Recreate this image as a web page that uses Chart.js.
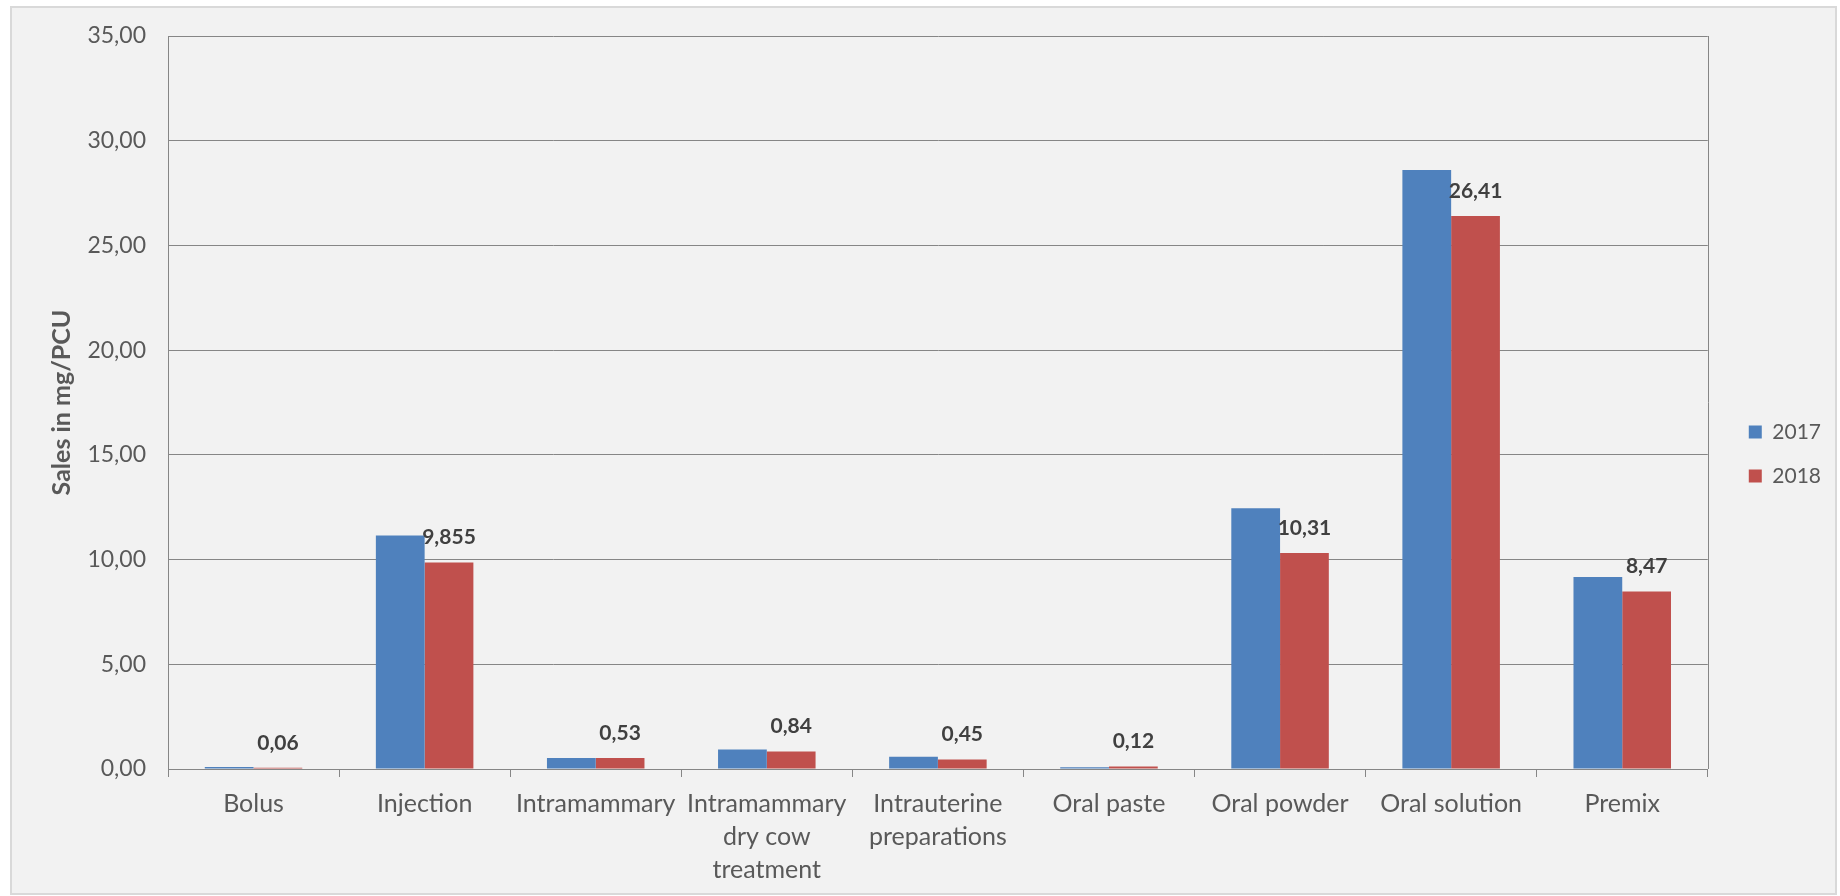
<!DOCTYPE html>
<html>
<head>
<meta charset="utf-8">
<script src="https://cdn.jsdelivr.net/npm/chart.js@4"></script>
<style>
  html, body { margin: 0; padding: 0; background: #ffffff; }
  canvas { display: block; }
</style>
</head>
<body>
<canvas id="chartSales" width="1840" height="896"></canvas>
<script>
// Sales per pharmaceutical form, mg/PCU
const categories = [
    'Bolus', 'Injection', 'Intramammary', ['Intramammary', 'dry cow', 'treatment'],
    ['Intrauterine', 'preparations'], 'Oral paste', 'Oral powder', 'Oral solution', 'Premix'
];
const seriesNames = ['2017', '2018'];
const values2017 = [0.09, 11.15, 0.53, 0.93, 0.58, 0.08, 12.45, 28.6, 9.17];
const values2018 = [0.06, 9.855, 0.53, 0.84, 0.45, 0.12, 10.31, 26.41, 8.47];
const yMin = 0;
const yMax = 35;
const yStep = 5;
const yTitle = 'Sales in mg/PCU';

const FONT = 'Lato, "Open Sans", sans-serif';
const axisGray = '#868686';
const textGray = '#595959';

const toComma = v => String(v).replace('.', ',');

// frame + grey chart background like the Excel export
const frameBg = {
    id: 'frameBg',
    beforeDraw(chart) {
        const ctx = chart.ctx;
        ctx.save();
        ctx.fillStyle = '#ffffff';
        ctx.fillRect(0, 0, chart.width, chart.height);
        ctx.fillStyle = '#f2f2f2';
        ctx.fillRect(11, 7, chart.width - 15, chart.height - 9);
        ctx.strokeStyle = '#d9d9d9';
        ctx.lineWidth = 2;
        ctx.strokeRect(11, 7, chart.width - 15, chart.height - 9);
        ctx.restore();
    }
};

// right edge of the plot area
const plotBorder = {
    id: 'plotBorder',
    beforeDatasetsDraw(chart) {
        const {ctx, chartArea} = chart;
        ctx.save();
        ctx.strokeStyle = axisGray;
        ctx.lineWidth = 1;
        ctx.beginPath();
        ctx.moveTo(Math.round(chartArea.right) + 0.5, chartArea.top);
        ctx.lineTo(Math.round(chartArea.right) + 0.5, chartArea.bottom);
        ctx.stroke();
        ctx.restore();
    }
};

// value labels above the 2018 bars
const valueLabels = {
    id: 'valueLabels',
    afterDatasetsDraw(chart) {
        const ctx = chart.ctx;
        const meta = chart.getDatasetMeta(1);
        const data = chart.data.datasets[1].data;
        ctx.save();
        ctx.font = 'bold 21px ' + FONT;
        ctx.fillStyle = '#404040';
        ctx.textAlign = 'center';
        ctx.textBaseline = 'middle';
        meta.data.forEach((bar, i) => {
            ctx.fillText(toComma(data[i]), bar.x, bar.y - 25);
        });
        ctx.restore();
    }
};

// invisible scales used only as spacers
const spacer = (position, size) => ({
    type: 'linear',
    position: position,
    display: true,
    grid: { display: false },
    border: { display: false },
    ticks: { display: false },
    afterFit(scale) {
        if (position === 'top') scale.height = size;
        else scale.width = size;
    }
});

new Chart(document.getElementById('chartSales'), {
    type: 'bar',
    data: {
        labels: categories,
        datasets: [
            {
                label: seriesNames[0],
                data: values2017,
                backgroundColor: '#4f81bd',
                xAxisID: 'x',
                yAxisID: 'y'
            },
            {
                label: seriesNames[1],
                data: values2018,
                backgroundColor: '#c0504d',
                xAxisID: 'x',
                yAxisID: 'y'
            }
        ]
    },
    options: {
        responsive: false,
        animation: false,
        devicePixelRatio: 1,
        categoryPercentage: 0.57,
        barPercentage: 1.0,
        layout: { padding: { top: 12, right: 9, bottom: 0, left: 0 } },
        plugins: {
            tooltip: { enabled: false },
            legend: {
                position: 'right',
                labels: {
                    boxWidth: 13,
                    boxHeight: 13,
                    padding: 23,
                    color: textGray,
                    font: { family: FONT, size: 21 }
                }
            }
        },
        scales: {
            x: {
                offset: true,
                grid: {
                    drawOnChartArea: false,
                    drawTicks: true,
                    tickLength: 8,
                    color: axisGray
                },
                border: { display: true, color: axisGray },
                ticks: {
                    autoSkip: false,
                    maxRotation: 0,
                    minRotation: 0,
                    padding: 10,
                    color: textGray,
                    font: { family: FONT, size: 25, lineHeight: 1.32 }
                },
                afterFit(scale) { scale.height = 127; }
            },
            y: {
                min: yMin,
                max: yMax,
                grid: { color: axisGray, drawTicks: false },
                border: { display: true, color: axisGray },
                ticks: {
                    stepSize: yStep,
                    padding: 22,
                    color: textGray,
                    font: { family: FONT, size: 23 },
                    callback: v => v.toFixed(2).replace('.', ',')
                },
                title: {
                    display: true,
                    text: yTitle,
                    color: textGray,
                    padding: { top: 47, bottom: 0 },
                    font: { family: FONT, size: 25, weight: 'bold' }
                },
                afterFit(scale) { scale.width = 168; }
            },
            gapTop: spacer('top', 24),
            gapRight: spacer('right', 18)
        }
    },
    plugins: [frameBg, plotBorder, valueLabels]
});
</script>
</body>
</html>
